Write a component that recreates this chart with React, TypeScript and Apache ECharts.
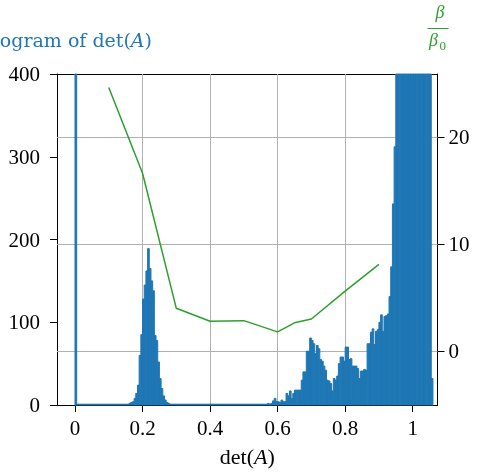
import React, { useEffect, useRef } from "react";
import * as echarts from "echarts";

const FONT = "'Liberation Serif', 'DejaVu Serif', serif";
const TITLE_FONT = "'DejaVu Serif', serif";
const BLUE = "#1f77b4";
const GREEN = "#2ca02c";

// Histogram: bins of width 0.005 starting at 0
const binWidth = 0.005;
const spikeAtZero = [2000];
const gapLow = [1,1,1,1,1,1,1,1,1,1, 1,1,1,1,1,1,1,1,1,1, 1,1,1,1,1,1,1,1,1,1, 1];
const peakNear02 = [2,3,4,8,14,24,60,85,128,145,162,189,165,150,138,84,78,52,32,20,11,6,3,2];
const gapMid = [1,1,1,1,1,1,1,1,1,1, 1,1,1,1,1,1,1,1,1,1, 1,1,1,1,1,1,1,1,1,1, 1,1,1,1,1,1,1,1,1,1, 1,1,1,1,1,1,1,1,1,1, 1,1,1,1,1,1];
const tailNear06 = [1,1,2,1,2, 5,8,4,4,3,6,4,4];
const bumpNear07 = [14,11,17,8,14,18,18,18,18,30,40,40,65,65,81,78,74,62,72,68];
const bumpNear08 = [55,53,47,42,30,29,26,17,32,30,35,50,58,58,53,70,70,55,56,47,47,47,44,32,41,41,43,42,74,74];
const riseNear09 = [88,92,73,89,91,100,109,89,107,108,110,131,167,243,312];
const blockNear1 = [420,470,530,600,680,760,830,880,920,940,950,930,900,850,790,720,640,560,490,440,410];
const lastBin = [32];
const counts = [
  ...spikeAtZero, ...gapLow, ...peakNear02, ...gapMid, ...tailNear06,
  ...bumpNear07, ...bumpNear08, ...riseNear09, ...blockNear1, ...lastBin,
];

// beta / beta0 line (right axis)
const ratioX = [0.1, 0.2, 0.3, 0.4, 0.5, 0.6, 0.65, 0.7, 0.8, 0.9];
const ratioY = [24.6, 16.6, 4.0, 2.8, 2.85, 1.8, 2.65, 3.0, 5.6, 8.1];

const xTicks = [0, 0.2, 0.4, 0.6, 0.8, 1];
const rightTicks = [0, 10, 20];

export default function App() {
  const ref = useRef<HTMLDivElement>(null);
  useEffect(() => {
    if (!ref.current) return;
    const chart = echarts.init(ref.current, null, { renderer: "svg" });
    const histData = counts.map((c, i) => [i * binWidth, (i + 1) * binWidth, c]);
    const tickStyle = { color: "#000", width: 1 };
    const gridMark = (data: any[]) => ({
      silent: true,
      z: 1,
      symbol: ["none", "none"],
      label: { show: false },
      lineStyle: { color: "#b0b0b0", width: 1, type: "solid" },
      data,
    });
    const option: any = {
      animation: false,
      textStyle: { fontFamily: FONT },
      grid: { left: 57, right: 41.5, top: 74, bottom: 65.5 },
      xAxis: [
        {
          type: "value",
          min: -0.0533,
          max: 1.0735,
          position: "bottom",
          axisLine: { show: true, onZero: false, lineStyle: tickStyle },
          axisTick: { show: true, length: 7, customValues: xTicks, lineStyle: tickStyle },
          axisLabel: {
            customValues: xTicks,
            color: "#000",
            fontSize: 21,
            fontFamily: FONT,
            margin: 12,
            formatter: (v: number) => String(Math.round(v * 10) / 10),
          },
          splitLine: { show: false },
          name: "{n|det(}{i|A}{n|)}",
          nameLocation: "middle",
          nameGap: 40,
          nameTextStyle: {
            color: "#000",
            fontSize: 22,
            fontFamily: FONT,
            rich: {
              n: { fontSize: 22, fontFamily: FONT, color: "#000" },
              i: { fontSize: 22, fontFamily: FONT, fontStyle: "italic", color: "#000" },
            },
          },
        },
        {
          type: "value",
          min: -0.0533,
          max: 1.0735,
          position: "top",
          axisLine: { show: true, onZero: false, lineStyle: tickStyle },
          axisTick: { show: false },
          axisLabel: { show: false },
          splitLine: { show: false },
        },
      ],
      yAxis: [
        {
          type: "value",
          min: 0,
          max: 400,
          interval: 100,
          position: "left",
          axisLine: { show: true, onZero: false, lineStyle: tickStyle },
          axisTick: { show: true, length: 7, lineStyle: tickStyle },
          axisLabel: { color: "#000", fontSize: 21, fontFamily: FONT, margin: 17 },
          splitLine: { show: false },
        },
        {
          type: "value",
          min: -5.02,
          max: 25.86,
          position: "right",
          axisLine: { show: true, onZero: false, lineStyle: tickStyle },
          axisTick: { show: true, length: 7, customValues: rightTicks, lineStyle: tickStyle },
          axisLabel: { customValues: rightTicks, color: "#000", fontSize: 21, fontFamily: FONT, margin: 11 },
          splitLine: { show: false },
        },
      ],
      series: [
        {
          type: "line",
          xAxisIndex: 0,
          yAxisIndex: 0,
          data: [],
          z: 1,
          silent: true,
          markLine: gridMark(xTicks.map((v) => ({ xAxis: v }))),
        },
        {
          type: "line",
          xAxisIndex: 0,
          yAxisIndex: 1,
          data: [],
          z: 1,
          silent: true,
          markLine: gridMark(rightTicks.map((v) => ({ yAxis: v }))),
        },
        {
          type: "custom",
          xAxisIndex: 0,
          yAxisIndex: 0,
          z: 2,
          data: histData,
          encode: { x: [0, 1], y: 2 },
          renderItem: (params: any, api: any) => {
            const x0 = api.value(0);
            const x1 = api.value(1);
            const y = api.value(2);
            const p0 = api.coord([x0, y]);
            const p1 = api.coord([x1, 0]);
            const cs = params.coordSys;
            const shape = echarts.graphic.clipRectByRect(
              { x: p0[0], y: p0[1], width: p1[0] - p0[0], height: p1[1] - p0[1] },
              { x: cs.x, y: cs.y, width: cs.width, height: cs.height }
            );
            return shape
              ? { type: "rect", shape, style: { fill: BLUE, stroke: BLUE, lineWidth: 1 } }
              : null;
          },
        },
        {
          type: "line",
          xAxisIndex: 0,
          yAxisIndex: 1,
          z: 3,
          data: ratioX.map((x, i) => [x, ratioY[i]]),
          symbol: "none",
          showSymbol: false,
          lineStyle: { color: GREEN, width: 1.5 },
          itemStyle: { color: GREEN },
        },
      ],
      graphic: [
        {
          type: "text",
          x: 152,
          y: 39.6,
          style: {
            text: "{n|Histogram of det(}{i|A}{n|)}",
            align: "right",
            verticalAlign: "middle",
            fill: BLUE,
            font: `19px ${TITLE_FONT}`,
            rich: {
              n: { fontSize: 19, fontFamily: TITLE_FONT, fill: BLUE, color: BLUE },
              i: { fontSize: 19, fontFamily: TITLE_FONT, fontStyle: "italic", fill: BLUE, color: BLUE },
            },
          },
        },
        {
          type: "text",
          x: 440,
          y: 12,
          style: {
            text: "β",
            align: "center",
            verticalAlign: "middle",
            fill: GREEN,
            font: `italic 18px ${FONT}`,
          },
        },
        {
          type: "line",
          shape: { x1: 427.5, y1: 28.5, x2: 448.5, y2: 28.5 },
          style: { stroke: GREEN, lineWidth: 1 },
        },
        {
          type: "text",
          x: 433.5,
          y: 40,
          style: {
            text: "β",
            align: "center",
            verticalAlign: "middle",
            fill: GREEN,
            font: `italic 18px ${FONT}`,
          },
        },
        {
          type: "text",
          x: 439.5,
          y: 45.6,
          style: {
            text: "0",
            align: "left",
            verticalAlign: "middle",
            fill: GREEN,
            font: `13px ${FONT}`,
          },
        },
      ],
    };
    chart.setOption(option);
    return () => chart.dispose();
  }, []);
  return (
    <div
      ref={ref}
      style={{ position: "fixed", left: 0, top: 0, width: 479, height: 472 }}
    />
  );
}
